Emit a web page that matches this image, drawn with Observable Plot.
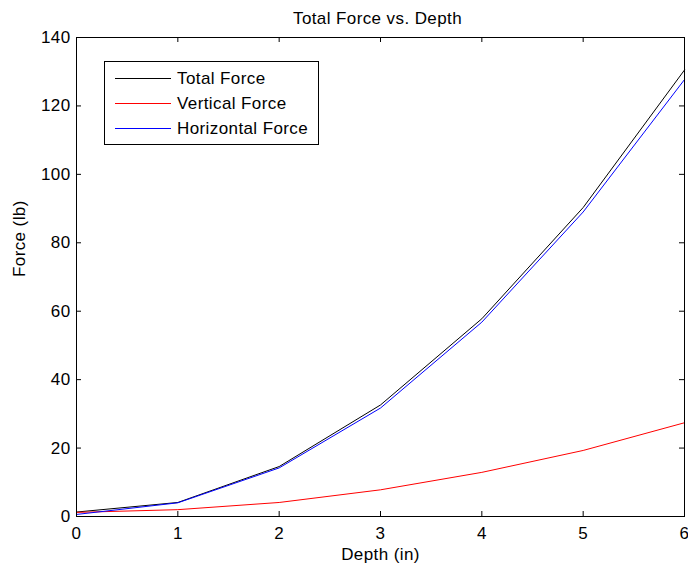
<!DOCTYPE html>
<html><head><meta charset="utf-8">
<script src="https://cdn.jsdelivr.net/npm/d3@7"></script>
<script src="https://cdn.jsdelivr.net/npm/@observablehq/plot@0.6"></script>
<style>
body{margin:0;background:#fff;}
#wrap{position:relative;width:688px;height:566px;font-family:"Liberation Sans",Arial,sans-serif;}
#wrap svg text{letter-spacing:0.4px;}
#legend{position:absolute;left:104px;top:61px;width:215px;height:84px;border:1px solid #000;background:#fff;box-sizing:border-box;font-size:17px;letter-spacing:0.4px;color:#000;}
.row{position:absolute;left:0;height:20px;width:100%;}
.sw{position:absolute;left:10px;width:56px;height:1px;top:10px;}
.lab{position:absolute;left:72px;white-space:nowrap;line-height:20px;top:1px;}
</style></head><body><div id="wrap"></div>
<script>
const depth = [0, 1, 2, 3, 4, 5, 6];
const totalForce = [1.3, 4.1, 14.6, 32.6, 57.8, 90.3, 130.5];
const verticalForce = [1.2, 2.0, 4.1, 7.8, 12.9, 19.3, 27.4];
const horizontalForce = [0.6, 4.0, 14.2, 31.7, 56.8, 89.0, 127.7];
const seriesNames = ["Total Force", "Vertical Force", "Horizontal Force"];
const seriesColors = ["#000000", "#ff0000", "#0000ff"];
const xTicks = [0, 1, 2, 3, 4, 5, 6];
const yTicks = [0, 20, 40, 60, 80, 100, 120, 140];
const titleText = "Total Force vs. Depth";
const xLabel = "Depth (in)";
const yLabel = "Force (lb)";

const seriesValues = [totalForce, verticalForce, horizontalForce];
const rows = [];
seriesNames.forEach((s, i) => depth.forEach((d, j) => rows.push({series: s, depth: d, value: seriesValues[i][j]})));

const W = 688, Hh = 566, mL = 76, mR = 4, mT = 37, mB = 50;
const fw = W - mL - mR, fh = Hh - mT - mB, tl = 5;

const chart = Plot.plot({
  width: W, height: Hh,
  marginLeft: mL, marginRight: mR, marginTop: mT, marginBottom: mB,
  style: {fontFamily: '"Liberation Sans", Arial, sans-serif', fontSize: "17px", color: "#000", background: "#fff", overflow: "visible"},
  x: {domain: [0, 6]},
  y: {domain: [0, 140]},
  color: {domain: seriesNames, range: seriesColors},
  marks: [
    Plot.line(rows, {x: "depth", y: "value", z: "series", stroke: "series", strokeWidth: 1}),
    Plot.frame({stroke: "#000"}),
    Plot.tickX(xTicks, {x: d => d, insetTop: fh - tl, stroke: "#000"}),
    Plot.tickX(xTicks, {x: d => d, insetBottom: fh - tl, stroke: "#000"}),
    Plot.tickY(yTicks, {y: d => d, insetRight: fw - tl, stroke: "#000"}),
    Plot.tickY(yTicks, {y: d => d, insetLeft: fw - tl, stroke: "#000"}),
    Plot.axisX(xTicks, {tickSize: 0, tickPadding: 10, label: null, fill: "#000"}),
    Plot.axisY(yTicks, {tickSize: 0, tickPadding: 6, label: null, fill: "#000"}),
    Plot.text([titleText], {text: d => d, frameAnchor: "top", lineAnchor: "middle", dy: -19, dx: -3, fill: "#000"}),
    Plot.text([xLabel], {text: d => d, frameAnchor: "bottom", lineAnchor: "middle", dy: 38, fill: "#000"}),
    Plot.text([yLabel], {text: d => d, frameAnchor: "left", lineAnchor: "middle", dx: -57, rotate: -90, fill: "#000"})
  ]
});

const wrap = document.getElementById("wrap");
wrap.append(chart);
const legend = document.createElement("div");
legend.id = "legend";
seriesNames.forEach((s, i) => {
  const row = document.createElement("div");
  row.className = "row";
  row.style.top = (6 + i * 25) + "px";
  const sw = document.createElement("div");
  sw.className = "sw";
  sw.style.background = seriesColors[i];
  const lab = document.createElement("div");
  lab.className = "lab";
  lab.textContent = s;
  row.append(sw, lab);
  legend.append(row);
});
wrap.append(legend);
</script></body></html>
